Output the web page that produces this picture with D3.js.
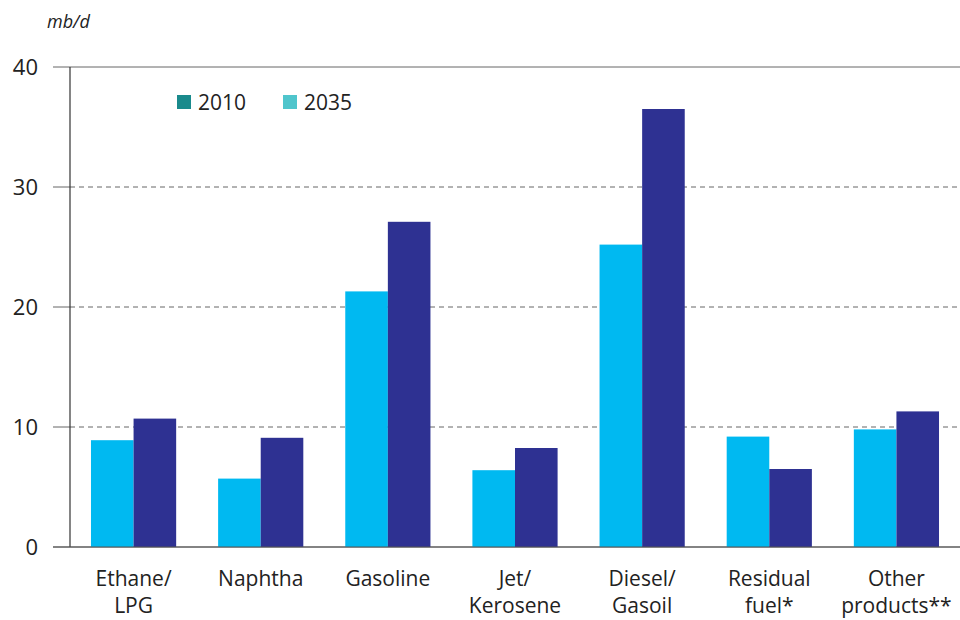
<!DOCTYPE html>
<html>
<head>
<meta charset="utf-8">
<script src="https://cdn.jsdelivr.net/npm/d3@7"></script>
<style>
  body { margin: 0; background: #fff; }
  svg { font-family: "Open Sans", "Noto Sans", sans-serif; }
</style>
</head>
<body>
<svg id="chart" width="960" height="620"></svg>
<script>
const categories = [
  ["Ethane/", "LPG"],
  ["Naphtha"],
  ["Gasoline"],
  ["Jet/", "Kerosene"],
  ["Diesel/", "Gasoil"],
  ["Residual", "fuel*"],
  ["Other", "products**"],
];
const series = ["2010", "2035"];
const values2010 = [8.9, 5.7, 21.3, 6.4, 25.2, 9.2, 9.8];
const values2035 = [10.7, 9.1, 27.1, 8.25, 36.5, 6.5, 11.3];
const yTicks = [0, 10, 20, 30, 40];

const barColors = ["#00b9f1", "#2e3192"];
const legendColors = ["#1a8a8c", "#4fc5cc"];

const svg = d3.select("#chart");
const margin = { top: 67, right: 0, bottom: 73, left: 70 };
const width = 960 - margin.left - margin.right;
const height = 620 - margin.top - margin.bottom;

const g = svg.append("g").attr("transform", `translate(${margin.left},${margin.top})`);

const x = d3.scaleBand().domain(d3.range(categories.length)).range([0, width]).paddingInner(0.33).paddingOuter(0.165);
const xs = d3.scaleBand().domain(series).range([0, x.bandwidth()]);
const y = d3.scaleLinear().domain([0, 40]).range([height, 0]);

// gridlines
yTicks.forEach((t) => {
  const solid = t === 0 || t === 40;
  g.append("line")
    .attr("x1", solid ? -17 : 0).attr("x2", width)
    .attr("y1", y(t)).attr("y2", y(t))
    .attr("stroke", solid ? "#666" : "#666")
    .attr("stroke-width", 1)
    .attr("stroke-dasharray", solid ? null : "5,4");
  if (!solid) {
    g.append("line")
      .attr("x1", -17).attr("x2", 0)
      .attr("y1", y(t)).attr("y2", y(t))
      .attr("stroke", "#666");
  }
  g.append("text")
    .attr("x", -32).attr("y", y(t))
    .attr("dy", "0.36em")
    .attr("text-anchor", "end")
    .attr("font-size", 22)
    .attr("fill", "#222")
    .text(t);
});

// bars
const data = categories.map((c, i) => [values2010[i], values2035[i]]);
const grp = g.selectAll(".cat").data(data).enter().append("g")
  .attr("transform", (d, i) => `translate(${x(i)},0)`);
grp.selectAll("rect").data((d) => d.map((v, j) => ({ v, s: series[j], j }))).enter().append("rect")
  .attr("x", (d) => xs(d.s))
  .attr("width", xs.bandwidth())
  .attr("y", (d) => y(d.v))
  .attr("height", (d) => y(0) - y(d.v))
  .attr("fill", (d) => barColors[d.j]);

// axis line
g.append("line").attr("x1", 0).attr("x2", 0).attr("y1", 0).attr("y2", height)
  .attr("stroke", "#333").attr("stroke-width", 1.2);
g.append("line").attr("x1", -17).attr("x2", width).attr("y1", height).attr("y2", height)
  .attr("stroke", "#555").attr("stroke-width", 1.2);

// category labels
categories.forEach((lines, i) => {
  const t = g.append("text")
    .attr("x", x(i) + x.bandwidth() / 2)
    .attr("y", height + 39)
    .attr("text-anchor", "middle")
    .attr("font-size", 21)
    .attr("fill", "#222");
  lines.forEach((l, k) => {
    t.append("tspan").attr("x", x(i) + x.bandwidth() / 2).attr("dy", k === 0 ? 0 : 27).text(l);
  });
});

// unit label
svg.append("text").attr("x", 47).attr("y", 28)
  .attr("font-size", 18).attr("font-style", "italic").attr("fill", "#222")
  .text("mb/d");

// legend
const legend = svg.append("g").attr("transform", "translate(177,95)");
series.forEach((s, i) => {
  const lg = legend.append("g").attr("transform", `translate(${i * 106},0)`);
  lg.append("rect").attr("width", 14).attr("height", 14).attr("fill", legendColors[i]);
  lg.append("text").attr("x", 21).attr("y", 7).attr("dy", "0.36em")
    .attr("font-size", 21).attr("fill", "#222").text(s);
});
</script>
</body>
</html>
